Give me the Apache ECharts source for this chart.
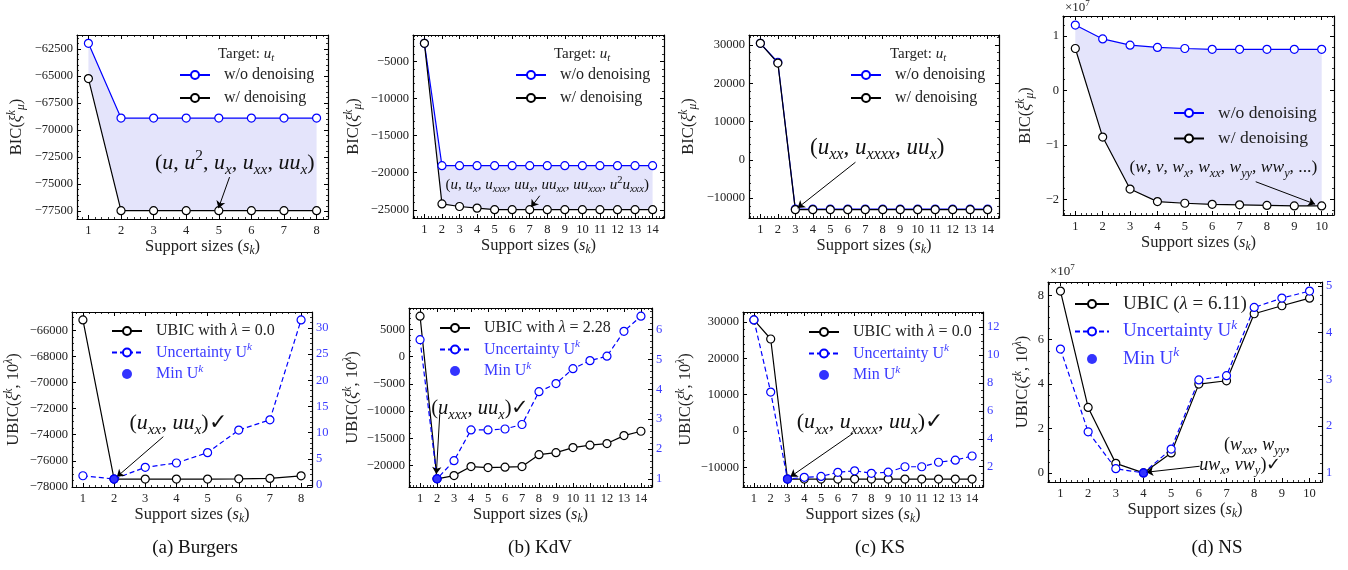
<!DOCTYPE html>
<html>
<head>
<meta charset="UTF-8">
<title>ubic-support-sizes</title>
<style>
  body { margin: 0; background: #fff; }
  #chart { width: 1348px; height: 570px; }
</style>
<script src="https://cdn.jsdelivr.net/npm/echarts@6/dist/echarts.min.js"></script>
</head>
<body>
<div id="chart"></div>
<script type="text/javascript">
// support sizes (x values)
const sizes8 = [1, 2, 3, 4, 5, 6, 7, 8];
const sizes10 = [1, 2, 3, 4, 5, 6, 7, 8, 9, 10];
const sizes14 = [1, 2, 3, 4, 5, 6, 7, 8, 9, 10, 11, 12, 13, 14];

// top row: BIC without / with denoising
const burgersNoDenoise = [-62000, -68900, -68900, -68900, -68900, -68900, -68900, -68900];
const burgersDenoise = [-65250, -77450, -77450, -77450, -77450, -77450, -77450, -77450];
const kdvNoDenoise = [-2550, -19050, -19050, -19050, -19050, -19050, -19050, -19050, -19050, -19050, -19050, -19050, -19050, -19050];
const kdvDenoise = [-2550, -24200, -24550, -24770, -24980, -24980, -24980, -24980, -24980, -24980, -24980, -24980, -24980, -24980];
const ksNoDenoise = [30450, 25500, -12850, -12850, -12850, -12850, -12850, -12850, -12850, -12850, -12850, -12850, -12850, -12850];
const ksDenoise = [30450, 25300, -13000, -13000, -13000, -13000, -13000, -13000, -13000, -13000, -13000, -13000, -13000, -13000];
const nsNoDenoise = [1.20, 0.945, 0.83, 0.79, 0.77, 0.755, 0.755, 0.755, 0.755, 0.755]; // x1e7
const nsDenoise = [0.77, -0.856, -1.81, -2.04, -2.07, -2.09, -2.10, -2.11, -2.12, -2.12]; // x1e7

// bottom row: UBIC and uncertainty
const burgersUbic = [-65200, -77400, -77400, -77400, -77400, -77380, -77350, -77150];
const burgersUnc = [1.78, 1.15, 3.39, 4.21, 6.19, 10.5, 12.45, 31.5];
const kdvUbic = [7450, -22450, -21850, -20185, -20370, -20300, -20185, -18000, -17630, -16700, -16260, -15960, -14500, -13700];
const kdvUnc = [5.66, 1.0, 1.61, 2.64, 2.64, 2.67, 2.82, 3.92, 4.19, 4.69, 4.96, 5.11, 5.94, 6.45];
const ksUbic = [30550, 25310, -13200, -13200, -13200, -13200, -13200, -13200, -13200, -13200, -13200, -13200, -13200, -13200];
const ksUnc = [12.5, 7.34, 1.12, 1.24, 1.31, 1.6, 1.71, 1.53, 1.61, 2.0, 2.0, 2.32, 2.47, 2.77];
const nsUbic = [8.19, 2.95, 0.43, 0.0, 0.9, 4.0, 4.15, 7.17, 7.53, 7.87]; // x1e7
const nsUnc = [3.65, 1.88, 1.09, 1.0, 1.51, 2.99, 3.08, 4.54, 4.74, 4.89];

// tick labels
const burgersBicTicks = [-77500, -75000, -72500, -70000, -67500, -65000, -62500];
const kdvBicTicks = [-25000, -20000, -15000, -10000, -5000];
const ksBicTicks = [-10000, 0, 10000, 20000, 30000];
const nsBicTicks = [-2, -1, 0, 1];
const burgersUbicTicks = [-78000, -76000, -74000, -72000, -70000, -68000, -66000];
const burgersUncTicks = [0, 5, 10, 15, 20, 25, 30];
const kdvUbicTicks = [-20000, -15000, -10000, -5000, 0, 5000];
const kdvUncTicks = [1, 2, 3, 4, 5, 6];
const ksUbicTicks = [-10000, 0, 10000, 20000, 30000];
const ksUncTicks = [2, 4, 6, 8, 10, 12];
const nsUbicTicks = [0, 2, 4, 6, 8];
const nsUncTicks = [1, 2, 3, 4, 5];

const FAM = 'Liberation Serif';
const BLUE = '#0000ff';
const LBLUE = '#3b3bff';
const FILL = '#e4e4fb';

// legend labels (mini tex: $..$ = math, _ sub, ^ sup)
const legendText = {
  wo: 'w/o denoising',
  w: 'w/ denoising',
  ubic00: 'UBIC with $λ = 0.0$',
  ubic228: 'UBIC with $λ = 2.28$',
  ubic611: 'UBIC ($λ = 6.11$)',
  unc: 'Uncertainty U$^k$',
  minu: 'Min U$^k$'
};

function rich(F, color) {
  const sf = Math.round(F * 0.7 * 10) / 10;
  const lh = Math.round(F * 1.3);
  const st = (size, italic, extra) => Object.assign(
    {fontFamily: FAM, fontSize: size, fontStyle: italic ? 'italic' : 'normal'},
    color ? {color: color} : {}, extra);
  return {
    r: st(F, false, {lineHeight: lh}),
    i: st(F, true, {lineHeight: lh}),
    sr: st(sf, false, {lineHeight: sf, verticalAlign: 'bottom'}),
    si: st(sf, true, {lineHeight: sf, verticalAlign: 'bottom'}),
    pr: st(sf, false, {lineHeight: sf, verticalAlign: 'top'}),
    pi: st(sf, true, {lineHeight: sf, verticalAlign: 'top'})
  };
}

function tex(s) {
  let out = '', buf = '', cur = null, math = false, i = 0;
  const flush = () => { if (buf) out += '{' + cur + '|' + buf + '}'; buf = ''; };
  const push = (style, ch) => { if (style !== cur) { flush(); cur = style; } buf += ch; };
  const isLetter = ch => /[a-zA-Zα-ω]/.test(ch);
  while (i < s.length) {
    const c = s[i];
    if (c === '$') { math = !math; i++; continue; }
    if (math && (c === '_' || c === '^')) {
      i++;
      let g;
      if (s[i] === '{') { const j = s.indexOf('}', i); g = s.slice(i + 1, j); i = j + 1; }
      else { g = s[i]; i++; }
      for (const ch of g) push((c === '_' ? 's' : 'p') + (isLetter(ch) ? 'i' : 'r'), ch);
      continue;
    }
    push(math && isLetter(c) ? 'i' : 'r', c);
    i++;
  }
  flush();
  return out;
}

const fmt = v => String(v).replace('-', '\u2212');

function padRange(vals) {
  const lo = Math.min(...vals), hi = Math.max(...vals), d = hi - lo;
  return [lo - 0.05 * d, hi + 0.05 * d];
}

function minorTicks(range, step, majors) {
  const out = [];
  for (let v = Math.ceil(range[0] / step) * step; v <= range[1] + 1e-9; v += step) {
    const r = +(Math.round(v / step) * step).toFixed(6);
    if (!majors.some(m => Math.abs(m - r) < step * 1e-3)) out.push(r);
  }
  return out;
}

// one side of the frame: major axis (line, ticks, labels) + minor ticks axis
function side(grid, pos, range, majors, step, lab, extra) {
  const base = {gridIndex: grid, type: 'value', position: pos, min: range[0], max: range[1],
    splitLine: {show: false}};
  const major = Object.assign({}, base, {
    axisLine: {show: true, onZero: false, lineStyle: {color: '#000', width: 1.2}},
    axisTick: {show: true, inside: true, length: 4, customValues: majors, lineStyle: {color: '#000', width: 1}},
    axisLabel: lab ? Object.assign({show: true, customValues: majors, formatter: fmt,
      fontFamily: FAM, fontSize: 12.5, color: '#222', margin: 5}, lab) : {show: false}
  }, extra || {});
  const minor = Object.assign({}, base, {
    axisLine: {show: false, onZero: false},
    axisTick: {show: true, inside: true, length: 2, customValues: minorTicks(range, step, majors),
      lineStyle: {color: '#000', width: 0.8}},
    axisLabel: {show: false}
  });
  return [major, minor];
}

function lineSeries(name, xi, yi, xs, ys, color, dashed) {
  return {
    type: 'line', name: name, xAxisIndex: xi, yAxisIndex: yi,
    data: xs.map((x, i) => [x, ys[i]]),
    symbol: 'circle', symbolSize: 8, showSymbol: true,
    lineStyle: {color: color, width: 1.2, type: dashed ? [5, 3] : 'solid'},
    itemStyle: {color: '#fff', borderColor: color, borderWidth: 1.2},
    emphasis: {disabled: true}, z: 3
  };
}

const panels = [
  {kind: 'bic', box: [77, 35, 251, 184], xs: sizes8, upper: burgersNoDenoise, lower: burgersDenoise,
    yTicks: burgersBicTicks, yMinor: 500, yGap: 50,
    legend: {left: 179, top: 67, gap: 7, size: 16}, target: [246, 54, 'Target: $u_t$'],
    notes: [{text: '$(u, u^2, u_{x}, u_{xx}, uu_{x})$', size: 22, at: [5.49, -73056]}],
    arrow: [[5.33, -74350], [4.99, -77220]]},
  {kind: 'bic', box: [413, 35, 251, 183], xs: sizes14, upper: kdvNoDenoise, lower: kdvDenoise,
    yTicks: kdvBicTicks, yMinor: 1000, yGap: 49,
    legend: {left: 515, top: 67, gap: 7, size: 16}, target: [582, 54, 'Target: $u_t$'],
    notes: [{text: '$(u, u_{x}, u_{xxx}, uu_{x}, uu_{xx}, uu_{xxx}, u^2u_{xxx})$', size: 15, at: [8.0, -21615]}],
    arrow: [[7.57, -23100], [7.08, -24630]]},
  {kind: 'bic', box: [749, 35, 250, 183], xs: sizes14, upper: ksNoDenoise, lower: ksDenoise,
    yTicks: ksBicTicks, yMinor: 2000, yGap: 50,
    legend: {left: 850, top: 67, gap: 7, size: 16}, target: [918, 54, 'Target: $u_t$'],
    notes: [{text: '$(u_{xx}, u_{xxxx}, uu_{x})$', size: 23, at: [7.68, 3158]}],
    arrow: [[6.44, -600], [3.13, -12550]]},
  {kind: 'bic', box: [1063, 16, 271, 199], xs: sizes10, upper: nsNoDenoise, lower: nsDenoise,
    yTicks: nsBicTicks, yMinor: 0.2, yGap: 27, exp: [1065, 8],
    legend: {left: 1173, top: 104, gap: 7.5, size: 17.5}, target: [1247, 90, 'Target: $w_t$'],
    notes: [{text: '$(w, v, w_{x}, w_{xx}, w_{yy}, ww_{y}, ...)$', size: 17.5, at: [6.41, -1.42]}],
    arrow: [[7.59, -1.675], [9.76, -2.087]]},
  {kind: 'ubic', box: [72, 312, 240, 175], xs: sizes8, ubic: burgersUbic, unc: burgersUnc,
    yTicks: burgersUbicTicks, yMinor: 500, rTicks: burgersUncTicks, rMinor: 1, yGap: 48, ubicName: 'ubic00',
    legend: {left: 111, top: 323, gap: 3, size: 16},
    notes: [{text: '$(u_{xx}, uu_{x})$✓', size: 22, at: [4.05, -73117]}],
    arrow: [[3.58, -74150], [2.09, -77230]]},
  {kind: 'ubic', box: [409, 308, 243, 179], xs: sizes14, ubic: kdvUbic, unc: kdvUnc,
    yTicks: kdvUbicTicks, yMinor: 1000, rTicks: kdvUncTicks, rMinor: 0.2, yGap: 46, ubicName: 'ubic228',
    legend: {left: 439, top: 320, gap: 3, size: 16},
    notes: [{text: '$(u_{xxx}, uu_{x})$✓', size: 20.5, at: [4.55, -9500]}],
    arrow: [[2.16, -10560], [1.96, -21540]]},
  {kind: 'ubic', box: [743, 312, 240, 175], xs: sizes14, ubic: ksUbic, unc: ksUnc,
    yTicks: ksUbicTicks, yMinor: 2000, rTicks: ksUncTicks, rMinor: 0.5, yGap: 47, ubicName: 'ubic00',
    legend: {left: 808, top: 324, gap: 3, size: 16},
    notes: [{text: '$(u_{xx}, u_{xxxx}, uu_{x})$✓', size: 22, at: [7.91, 2303]}],
    arrow: [[6.91, -620], [3.17, -12590]]},
  {kind: 'ubic', box: [1048, 282, 274, 200], xs: sizes10, ubic: nsUbic, unc: nsUnc,
    yTicks: nsUbicTicks, yMinor: 0.5, rTicks: nsUncTicks, rMinor: 0.2, yGap: 15, ubicName: 'ubic611', exp: [1050, 272],
    legend: {left: 1074, top: 294.5, gap: 5.5, size: 19, width: 34},
    notes: [{text: '$(w_{xx}, w_{yy},$', size: 18, at: [8.10, 1.23]},
            {text: '$uw_{x}, vw_{y})$✓', size: 18, at: [7.50, 0.33]}],
    arrow: [[6.03, 0.30], [4.10, 0.03]]}
];

const option = {
  animation: false,
  backgroundColor: '#fff',
  grid: [], xAxis: [], yAxis: [], series: [], legend: [], graphic: []
};

panels.forEach((p, k) => {
  const n = p.xs.length;
  const xr = [1 - 0.05 * (n - 1), n + 0.05 * (n - 1)];
  const bic = p.kind === 'bic';
  const yr = bic ? padRange(p.upper.concat(p.lower)) : padRange(p.ubic);
  const rr = bic ? yr : padRange(p.unc);

  option.grid.push({left: p.box[0], top: p.box[1], width: p.box[2], height: p.box[3],
    containLabel: false, outerBoundsMode: 'none'});

  const xName = {name: tex('Support sizes ($s_k$)'), nameLocation: 'middle', nameGap: 17,
    nameTextStyle: {rich: rich(16.5), color: '#222'}};
  option.xAxis.push(...side(k, 'bottom', xr, p.xs, 0.2, {margin: 5}, xName));
  option.xAxis.push(...side(k, 'top', xr, p.xs, 0.2, null));

  const yName = {name: tex(bic ? 'BIC($ξ^k_μ$)' : 'UBIC($ξ^k, 10^λ$)'), nameLocation: 'middle',
    nameGap: p.yGap, nameRotate: 90, nameTextStyle: {rich: rich(16.5), color: '#222'}};
  option.yAxis.push(...side(k, 'left', yr, p.yTicks, p.yMinor, {margin: 4}, yName));
  if (bic) {
    option.yAxis.push(...side(k, 'right', rr, p.yTicks, p.yMinor, null));
  } else {
    option.yAxis.push(...side(k, 'right', rr, p.rTicks, p.rMinor, {margin: 4, color: LBLUE}));
  }

  const xi = 4 * k, yi = 4 * k, ri = 4 * k + 2;

  const marks = {
    markPoint: {
      silent: true, symbol: 'rect', symbolSize: 1, itemStyle: {color: 'rgba(0,0,0,0)'},
      data: p.notes.map(nt => ({
        coord: nt.at,
        label: {show: true, position: 'inside', color: '#111', formatter: () => tex(nt.text), rich: rich(nt.size)}
      }))
    },
    markLine: {
      silent: true, symbol: ['none', 'arrow'], symbolSize: 7,
      lineStyle: {color: '#000', width: 1, type: 'solid'},
      label: {show: false},
      data: [[{coord: p.arrow[0]}, {coord: p.arrow[1]}]]
    }
  };

  if (bic) {
    option.series.push({
      type: 'custom', name: 'fill', xAxisIndex: xi, yAxisIndex: yi, z: 1, silent: true,
      data: [[p.xs[0], p.upper[0]]],
      renderItem: (params, api) => {
        const top = p.xs.map((x, i) => api.coord([x, p.upper[i]]));
        const low = p.xs.map((x, i) => api.coord([x, p.lower[i]])).reverse();
        return {type: 'polygon', shape: {points: top.concat(low)}, style: {fill: FILL}};
      }
    });
    option.series.push(lineSeries('wo', xi, yi, p.xs, p.upper, BLUE, false));
    option.series.push(Object.assign(lineSeries('w', xi, yi, p.xs, p.lower, '#000', false), marks));
  } else {
    option.series.push(Object.assign(lineSeries(p.ubicName, xi, yi, p.xs, p.ubic, '#000', false), marks));
    option.series.push(lineSeries('unc', xi, ri, p.xs, p.unc, BLUE, true));
    const j = p.unc.indexOf(Math.min(...p.unc));
    option.series.push({
      type: 'scatter', name: 'minu', xAxisIndex: xi, yAxisIndex: ri,
      data: [[p.xs[j], p.unc[j]]], symbol: 'circle', symbolSize: 9,
      itemStyle: {color: BLUE}, emphasis: {disabled: true}, z: 5
    });
  }

  const names = bic ? [{name: 'wo'}, {name: 'w'}]
    : [{name: p.ubicName}, {name: 'unc', textStyle: {color: LBLUE}}, {name: 'minu', textStyle: {color: LBLUE}}];
  option.legend.push({
    left: p.legend.left, top: p.legend.top, orient: 'vertical', padding: 0,
    itemWidth: p.legend.width || 30, itemHeight: 10, itemGap: p.legend.gap,
    selectedMode: false, data: names,
    formatter: name => tex(legendText[name]),
    textStyle: {color: '#222', padding: [0, 0, 0, 9], rich: rich(p.legend.size)}
  });

  if (p.target) {
    option.graphic.push({type: 'text', x: p.target[0], y: p.target[1], silent: true,
      style: {text: tex(p.target[2]), rich: rich(15), fill: '#222', align: 'center', verticalAlign: 'middle',
        fontFamily: FAM, fontSize: 15}});
  }
  if (p.exp) {
    option.graphic.push({type: 'text', x: p.exp[0], y: p.exp[1], silent: true,
      style: {text: tex('×10$^7$'), rich: rich(13), fill: '#222', align: 'left', verticalAlign: 'middle',
        fontFamily: FAM, fontSize: 13}});
  }
});

const captions = [[195, '(a) Burgers'], [540, '(b) KdV'], [880, '(c) KS'], [1217, '(d) NS']];
captions.forEach(c => {
  option.graphic.push({type: 'text', x: c[0], y: 548, silent: true,
    style: {text: c[1], fill: '#111', align: 'center', verticalAlign: 'middle', fontFamily: FAM, fontSize: 19}});
});

const chart = echarts.init(document.getElementById('chart'));
chart.setOption(option);
</script>
</body>
</html>
